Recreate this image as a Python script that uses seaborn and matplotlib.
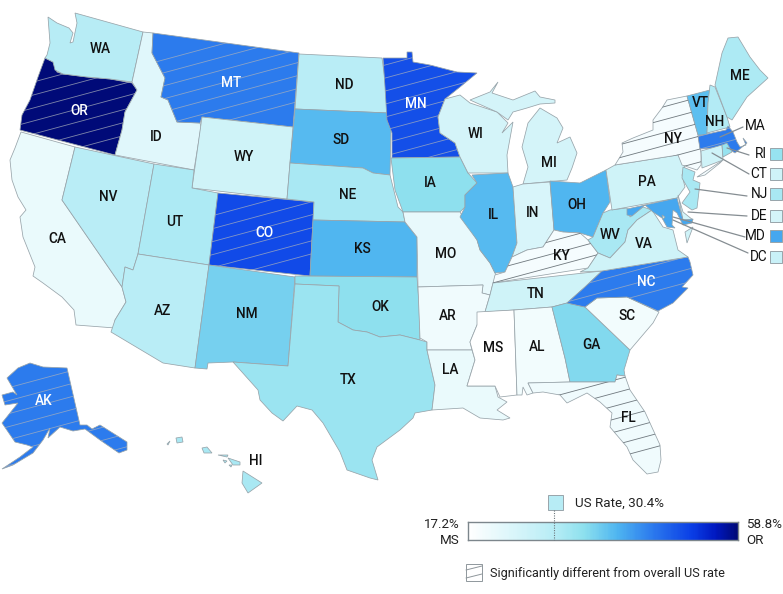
import matplotlib
matplotlib.use('Agg')
import matplotlib.pyplot as plt
from matplotlib.colors import LinearSegmentedColormap, Normalize
from matplotlib.patches import PathPatch
from matplotlib.path import Path
import numpy as np
import pandas as pd
import seaborn as sns

W, H = 783, 594

states = ['OR', 'WA', 'CA', 'NV', 'ID', 'MT', 'WY', 'UT', 'CO', 'AZ', 'NM', 'ND', 'SD', 'NE', 'KS', 'OK', 'TX',
          'MN', 'IA', 'MO', 'AR', 'LA', 'WI', 'IL', 'MI', 'IN', 'OH', 'KY', 'TN', 'MS', 'AL', 'GA', 'SC', 'NC', 'FL',
          'WV', 'VA', 'PA', 'NY', 'VT', 'NH', 'ME', 'MA', 'CT', 'RI', 'NJ', 'DE', 'MD', 'DC', 'AK', 'HI']
rates = [58.8, 30.5, 21.0, 30.0, 23.0, 45.5, 26.0, 31.5, 50.5, 30.0, 37.0, 30.0, 39.5, 32.0, 40.0, 35.0, 33.5,
         50.0, 35.0, 21.5, 20.0, 21.0, 25.0, 39.5, 25.0, 24.5, 40.0, 19.0, 26.0, 17.2, 19.5, 36.0, 19.5, 45.5, 20.0,
         32.0, 26.0, 26.0, 19.0, 39.0, 31.0, 31.5, 45.5, 26.0, 34.0, 32.0, 25.0, 41.5, 27.0, 45.5, 32.0]
significant = ['OR', 'MT', 'CO', 'MN', 'NC', 'MA', 'AK', 'NY', 'KY', 'FL']
white_labels = ['OR', 'MT', 'CO', 'MN', 'NC', 'AK']

us_rate = 30.4
rate_min, rate_max = 17.2, 58.8

# state outlines in pixels
outlines = {
    'WA': [[(48, 17), (57, 23), (69, 28), (73, 33), (70, 43), (73, 42), (77, 23), (75, 13), (143, 32), (132, 82),
            (110, 79), (87, 77), (63, 74), (55, 70), (53, 62), (45, 58), (47, 55), (50, 43)]],
    'OR': [[(45, 58), (53, 62), (57, 72), (63, 74), (87, 77), (110, 79), (132, 83), (137, 90), (125, 112), (122, 130),
            (115, 155), (20, 130), (22, 115), (30, 100), (38, 77)]],
    'CA': [[(21, 132), (75, 147), (62, 200), (122, 287), (126, 302), (115, 320), (115, 328), (76, 325), (74, 310),
            (62, 297), (43, 283), (33, 276), (35, 267), (23, 237), (20, 217), (26, 210), (18, 197), (12, 180),
            (10, 160), (15, 148)]],
    'NV': [[(75, 147), (154, 164), (138, 254), (133, 270), (125, 267), (122, 287), (62, 200)]],
    'ID': [[(143, 32), (153, 33), (152, 53), (165, 78), (161, 97), (168, 100), (177, 122), (200, 123), (201, 127),
            (194, 170), (115, 155), (122, 130), (125, 112), (137, 90), (132, 82)]],
    'MT': [[(153, 33), (299, 53), (293, 127), (202, 117), (200, 123), (177, 122), (168, 100), (161, 97), (165, 78),
            (152, 53)]],
    'WY': [[(202, 117), (293, 127), (287, 199), (192, 188)]],
    'UT': [[(154, 164), (194, 170), (192, 188), (218, 193), (209, 265), (138, 254)]],
    'CO': [[(218, 193), (314, 202), (310, 276), (209, 265)]],
    'AZ': [[(138, 254), (209, 265), (195, 368), (163, 363), (111, 332), (115, 320), (126, 302), (122, 287), (125, 267),
            (133, 270)]],
    'NM': [[(209, 265), (295, 277), (288, 366), (233, 362), (208, 363), (207, 369), (195, 368)]],
    'ND': [[(299, 54), (382, 58), (385, 80), (389, 113), (295, 109)]],
    'SD': [[(295, 109), (389, 113), (387, 120), (391, 127), (390, 175), (373, 173), (363, 168), (290, 163)]],
    'NE': [[(290, 163), (363, 168), (373, 173), (390, 175), (393, 187), (398, 207), (403, 212), (405, 222), (313, 220),
            (314, 202), (287, 199)]],
    'KS': [[(313, 220), (405, 222), (417, 237), (417, 277), (310, 276)]],
    'OK': [[(295, 276), (417, 277), (419, 303), (420, 340), (400, 335), (380, 337), (367, 332), (353, 330), (338, 322),
            (339, 286), (295, 284)]],
    'TX': [[(295, 284), (339, 286), (338, 322), (353, 330), (367, 332), (380, 337), (400, 335), (420, 340), (427, 342),
            (427, 350), (435, 385), (432, 410), (415, 413), (413, 418), (400, 430), (377, 447), (372, 460), (378, 480),
            (370, 478), (347, 470), (340, 452), (323, 423), (312, 410), (297, 406), (283, 421), (272, 413), (260, 400),
            (258, 390), (233, 362), (288, 366)]],
    'MN': [[(383, 58), (407, 58), (407, 52), (412, 52), (413, 62), (430, 65), (457, 72), (477, 73), (460, 87),
            (445, 99), (438, 117), (440, 133), (455, 143), (460, 157), (392, 158), (392, 133), (387, 120), (385, 87)]],
    'IA': [[(391, 158), (460, 157), (468, 173), (477, 183), (465, 195), (465, 207), (460, 212), (403, 212), (395, 190)]],
    'MO': [[(403, 212), (460, 212), (477, 240), (480, 250), (490, 263), (497, 277), (493, 283), (490, 295), (482, 293),
            (483, 285), (418, 287), (417, 237), (405, 222)]],
    'AR': [[(418, 287), (483, 285), (482, 293), (490, 295), (485, 312), (477, 325), (470, 342), (472, 350), (427, 350),
            (427, 342), (420, 338)]],
    'LA': [[(427, 350), (472, 350), (475, 360), (467, 386), (495, 386), (498, 397), (507, 402), (497, 410), (510, 418),
            (503, 420), (480, 418), (463, 408), (432, 410), (435, 385)]],
    'WI': [[(445, 99), (460, 95), (470, 103), (497, 112), (508, 123), (502, 133), (513, 122), (507, 155), (508, 173),
            (468, 173), (460, 157), (455, 143), (440, 133), (438, 117)]],
    'IL': [[(472, 175), (508, 173), (513, 187), (516, 230), (517, 243), (512, 257), (505, 272), (495, 273), (490, 263),
            (480, 250), (477, 240), (460, 217), (465, 207), (465, 195), (477, 183)]],
    'MI': [[(470, 100), (490, 92), (498, 82), (492, 93), (513, 100), (535, 91), (540, 97), (555, 100), (555, 103),
            (540, 104), (527, 108), (513, 112), (508, 120), (497, 112)],
           [(540, 108), (557, 118), (563, 128), (557, 143), (570, 137), (577, 153), (572, 168), (567, 180), (523, 184),
            (528, 167), (522, 147), (528, 123)]],
    'IN': [[(513, 187), (523, 184), (550, 182), (554, 230), (543, 247), (527, 250), (512, 257), (517, 243), (516, 230)]],
    'OH': [[(550, 181), (580, 183), (606, 170), (610, 202), (603, 213), (593, 237), (580, 233), (563, 232), (554, 230)]],
    'KY': [[(554, 230), (563, 232), (580, 233), (588, 240), (598, 253), (588, 268), (493, 283), (495, 275), (505, 272),
            (512, 257), (527, 250), (543, 247)]],
    'TN': [[(493, 283), (602, 271), (585, 287), (567, 303), (552, 307), (514, 310), (485, 312), (490, 295)]],
    'MS': [[(477, 312), (514, 310), (517, 395), (500, 397), (495, 386), (467, 386), (475, 360), (470, 342), (477, 325)]],
    'AL': [[(514, 310), (552, 307), (565, 358), (570, 382), (528, 383), (533, 393), (527, 395), (523, 387), (522, 395),
            (517, 395)]],
    'GA': [[(552, 307), (567, 303), (585, 307), (607, 328), (630, 350), (624, 370), (625, 376), (617, 375), (615, 382),
            (570, 382), (565, 358)]],
    'SC': [[(585, 307), (597, 298), (627, 297), (659, 312), (653, 323), (630, 350), (607, 328)]],
    'NC': [[(567, 303), (585, 287), (602, 271), (688, 257), (690, 262), (693, 275), (682, 287), (688, 288), (673, 303),
            (658, 311), (627, 297), (597, 298), (585, 307)]],
    'FL': [[(528, 383), (570, 382), (615, 382), (617, 375), (625, 376), (630, 390), (645, 412), (660, 445), (661, 460),
            (658, 472), (647, 474), (633, 460), (627, 447), (615, 433), (610, 427), (612, 413), (600, 402), (587, 393),
            (567, 403), (560, 395), (543, 392), (533, 393)]],
    'WV': [[(593, 237), (603, 213), (610, 210), (627, 208), (630, 217), (643, 207), (652, 210), (637, 220), (628, 230),
            (625, 242), (610, 258), (598, 253), (588, 240)]],
    'VA': [[(588, 268), (598, 253), (610, 258), (625, 242), (628, 230), (637, 220), (652, 210), (663, 227), (673, 230),
            (678, 250), (688, 257), (602, 271), (580, 272)],
           [(685, 232), (693, 227), (687, 243)]],
    'PA': [[(606, 170), (615, 165), (678, 155), (685, 165), (682, 175), (685, 187), (677, 198), (612, 210)]],
    'NY': [[(615, 165), (623, 152), (622, 143), (633, 138), (653, 130), (653, 120), (662, 108), (667, 100), (687, 96),
            (698, 135), (701, 153), (701, 165), (697, 170), (682, 165), (678, 155)],
           [(697, 177), (723, 160), (720, 163), (705, 175)]],
    'VT': [[(687, 96), (710, 90), (708, 103), (707, 135), (698, 135)]],
    'NH': [[(710, 85), (715, 87), (727, 117), (730, 127), (707, 133), (708, 103)]],
    'ME': [[(715, 85), (722, 53), (728, 38), (738, 37), (750, 57), (760, 70), (768, 78), (747, 97), (732, 120),
            (727, 117)]],
    'MA': [[(698, 136), (726, 130), (728, 126), (733, 132), (737, 142), (740, 147), (746, 145), (743, 138), (747, 143),
            (735, 153), (726, 147), (700, 149)]],
    'CT': [[(701, 151), (722, 145), (723, 160), (702, 168)]],
    'RI': [[(722, 145), (727, 143), (732, 152), (723, 157)]],
    'NJ': [[(683, 167), (695, 172), (693, 180), (700, 183), (697, 208), (692, 210), (682, 203), (690, 192), (682, 178)]],
    'DE': [[(678, 195), (683, 212), (693, 220), (683, 220)]],
    'MD': [[(627, 209), (677, 198), (683, 220), (693, 219), (692, 223), (683, 225), (677, 213), (673, 210), (672, 225),
            (675, 228), (667, 227), (662, 218), (653, 212), (645, 205), (632, 216), (627, 215)]],
    'DC': [[(662, 215), (665, 217), (663, 219)]],
    'AK': [[(30, 363), (43, 367), (67, 368), (80, 425), (87, 425), (92, 429), (100, 425), (127, 442), (127, 450),
            (119, 453), (100, 440), (85, 429), (73, 431), (60, 427), (48, 438), (50, 428), (43, 440), (33, 453),
            (13, 465), (2, 469), (20, 457), (33, 447), (27, 445), (15, 442), (2, 423), (10, 413), (18, 403), (5, 405),
            (2, 395), (13, 392), (17, 395), (7, 378), (18, 368)]],
    'HI': [[(243, 471), (262, 483), (248, 493), (242, 483)],
           [(228, 458), (240, 462), (240, 465), (233, 465)],
           [(218, 455), (228, 455), (227, 457)],
           [(202, 448), (207, 447), (212, 453), (204, 453)],
           [(176, 438), (182, 437), (183, 442), (177, 443)],
           [(167, 444), (170, 441), (168, 445)],
           [(223, 460), (227, 461), (225, 463)],
           [(229, 465), (232, 465), (231, 467)]],
}

label_pos = {
    'WA': (100, 49), 'OR': (79, 111), 'MT': (231, 83), 'ID': (156, 137), 'WY': (244, 157), 'ND': (344, 85),
    'SD': (341, 140), 'NE': (348, 195), 'MN': (416, 104), 'IA': (430, 183), 'WI': (476, 134), 'MI': (549, 163),
    'IL': (493, 215), 'IN': (533, 213), 'OH': (577, 205), 'PA': (647, 182), 'NY': (673, 139), 'VT': (700, 103),
    'NH': (715, 122), 'ME': (740, 76), 'NV': (108, 197), 'UT': (175, 222), 'CO': (264, 233), 'CA': (57, 239),
    'AZ': (163, 311), 'NM': (247, 314), 'KS': (362, 249), 'OK': (380, 307), 'TX': (348, 380), 'MO': (446, 254),
    'AR': (448, 316), 'LA': (450, 370), 'MS': (493, 348), 'AL': (537, 347), 'TN': (536, 294), 'KY': (561, 256),
    'GA': (591, 345), 'SC': (627, 316), 'NC': (646, 282), 'FL': (628, 418), 'VA': (644, 244), 'WV': (610, 235),
    'AK': (44, 401), 'HI': (256, 461),
}
# small eastern states get a label, a leader and a swatch
side_states = ['MA', 'RI', 'CT', 'NJ', 'DE', 'MD', 'DC']
side_label_x = [755, 761, 759, 759, 759, 755, 759]
side_label_y = [126, 154, 174, 194, 216, 236, 257]
side_swatch = [False, True, True, True, True, True, True]
leader_start = [(743, 127), (749, 155), (749, 174), (747, 196), (747, 216), (745, 237), (748, 253)]
leader_end = [(720, 137), (727, 148), (712, 153), (695, 189), (688, 212), (673, 217), (673, 220)]

ramp_pos = [0, .325, .43, .55, .67, .83, .92, 1]
ramp_colors = ['#ffffff', '#b5ecf5', '#8de0ee', '#4fb6f0', '#2f80ee', '#0a3ee6', '#0018c0', '#000a78']

EDGE = '#98a4aa'
TEXT = '#111111'


def draw_hatch(ax, parts, rate):
    verts = np.vstack(parts)
    x0, x1 = verts[:, 0].min() - 2, verts[:, 0].max() + 2
    y0, y1 = verts[:, 1].min() - 2, verts[:, 1].max() + 2
    clip = Path.make_compound_path(*[Path(np.vstack([p, p[0]]), closed=True) for p in parts])
    patch = PathPatch(clip, transform=ax.transData, fc='none', ec='none')
    ax.add_patch(patch)
    color, alpha = ('#6f787e', 1) if rate < 30 else ('#a9b0bb', 0.75)
    slope = -0.27
    spacing = 13
    low = int((y0 - slope * x1) // spacing)
    high = int((y1 - slope * x0) // spacing) + 1
    for k in range(low, high + 1):
        c = k * spacing
        line, = ax.plot([x0, x1], [c + slope * x0, c + slope * x1], color=color, alpha=alpha, lw=0.6, zorder=3)
        line.set_clip_path(patch)


sns.set_theme(style='white')
plt.rcParams['font.family'] = ['Roboto', 'DejaVu Sans']

df = pd.DataFrame({'state': states, 'rate': rates})
df['significant'] = df['state'].isin(significant)

cmap = LinearSegmentedColormap.from_list('rate', list(zip(ramp_pos, ramp_colors)))
norm = Normalize(rate_min, rate_max)

fig = plt.figure(figsize=(W / 100, H / 100), dpi=100)
ax = fig.add_axes([0, 0, 1, 1])
ax.set_xlim(0, W)
ax.set_ylim(H, 0)
ax.axis('off')

for _, row in df.iterrows():
    parts = [np.array(p, dtype=float) for p in outlines[row['state']]]
    for part in parts:
        ax.fill(part[:, 0], part[:, 1], fc=cmap(norm(row['rate'])), ec=EDGE, lw=0.55, zorder=2)
    if row['significant']:
        draw_hatch(ax, parts, row['rate'])

for st, (x, y) in label_pos.items():
    ax.text(x, y, st, ha='center', va='center', fontsize=9.8, fontweight='medium', zorder=5,
            color='white' if st in white_labels else TEXT)

rate_of = dict(zip(states, rates))
for st, lx, ly, a, b, has_swatch in zip(side_states, side_label_x, side_label_y, leader_start, leader_end, side_swatch):
    ax.plot([a[0], b[0]], [a[1], b[1]], color='#858d92', lw=0.9, zorder=4)
    ax.text(lx, ly, st, ha='center', va='center', fontsize=9.8, color=TEXT, zorder=5)
    if has_swatch:
        ax.fill([770, 782, 782, 770], [ly - 6, ly - 6, ly + 6, ly + 6], fc=cmap(norm(rate_of[st])), ec=EDGE, lw=0.7)

# gradient key
cax = fig.add_axes([468 / W, 1 - 540 / H, 270 / W, 18 / H])
ramp = np.linspace(rate_min, rate_max, 300).reshape(1, -1)
sns.heatmap(ramp, ax=cax, cmap=cmap, vmin=rate_min, vmax=rate_max, cbar=False, xticklabels=False, yticklabels=False)
for spine in cax.spines.values():
    spine.set_visible(True)
    spine.set_color('#7c868c')
    spine.set_linewidth(1)

usx = 468 + 270 * (us_rate - rate_min) / (rate_max - rate_min)
ax.plot([usx, usx], [510, 540], color='#6e787e', lw=0.8, ls=(0, (1, 1.2)), zorder=6)
cax.set_zorder(1)
ax.set_zorder(2)
ax.patch.set_visible(False)
ax.fill([548, 563, 563, 548], [495, 495, 510, 510], fc=cmap(norm(us_rate)), ec=EDGE, lw=0.7)
ax.text(575, 503, f'US Rate, {us_rate}%', ha='left', va='center', fontsize=9.6, color='#222222')
ax.text(460, 524, f'{rate_min}%', ha='right', va='center', fontsize=9.6, color='#222222')
ax.text(460, 541, 'MS', ha='right', va='center', fontsize=9.6, color='#222222')
ax.text(746, 524, f'{rate_max}%', ha='left', va='center', fontsize=9.6, color='#222222')
ax.text(746, 541, 'OR', ha='left', va='center', fontsize=9.6, color='#222222')

# hatch key
ax.fill([466, 482, 482, 466], [564, 564, 581, 581], fc='white', ec='#8f979c', lw=0.7)
ax.plot([466, 482], [570, 566], color='#8f979c', lw=0.7)
ax.plot([466, 482], [578, 574], color='#8f979c', lw=0.7)
ax.text(490, 573, 'Significantly different from overall US rate', ha='left', va='center', fontsize=9.1,
        color='#222222')

fig.savefig('out.png', dpi=100)
